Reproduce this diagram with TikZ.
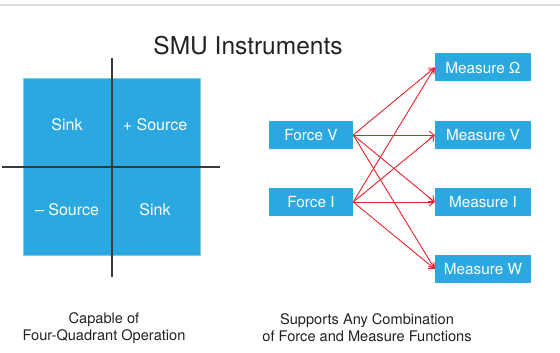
\documentclass[tikz,border=0pt]{standalone}
\usepackage{fontspec}
\setmainfont{TeX Gyre Heros}
\usetikzlibrary{arrows.meta}
\definecolor{smublue}{HTML}{2BA8E0}
\definecolor{smuedge}{HTML}{7CCFD6}
\definecolor{smured}{HTML}{E8212B}
\definecolor{smuaxis}{HTML}{3A3A3A}
\definecolor{smutext}{HTML}{222222}
\begin{document}
\begin{tikzpicture}[x=1pt, y=-1pt,
  box/.style={fill=smublue, text=white, minimum height=28pt, inner sep=0pt,
    font=\fontsize{15.3}{18}\selectfont},
  quad/.style={text=white, font=\fontsize{16}{19}\selectfont},
  caption/.style={text=smutext, align=center, font=\fontsize{14.6}{17}\selectfont},
  link/.style={smured, line width=0.9pt, -{Straight Barb[length=5pt,width=8pt]}}]
  \useasboundingbox (0,0) rectangle (560,353);
  \draw[line width=2pt, black!13] (0,5) -- (560,5);
  \node[text=smutext, font=\fontsize{24.5}{28}\selectfont] (title) at (248,46) {SMU Instruments};
  % four quadrants
  \node[draw=smuedge, fill=smublue, line width=1pt, minimum size=177pt, inner sep=0pt] (square) at (112,167) {};
  \draw[smuaxis, line width=1.2pt] (112,58) -- (112,277);
  \draw[smuaxis, line width=1.2pt] (2,167) -- (220,167);
  \node[quad] (q2) at (67,125) {Sink};
  \node[quad] (q1) at (155,125) {+ Source};
  \node[quad] (q3) at (67,210) {– Source};
  \node[quad] (q4) at (155,210) {Sink};
  % force and measure
  \node[box, minimum width=84pt] (fv) at (311,135) {Force V};
  \node[box, minimum width=84pt] (fi) at (311,202) {Force I};
  \node[box, minimum width=96pt] (mo) at (483,67.5) {Measure Ω};
  \node[box, minimum width=96pt] (mv) at (483,135) {Measure V};
  \node[box, minimum width=96pt] (mi) at (483,202) {Measure I};
  \node[box, minimum width=96pt] (mw) at (483,269) {Measure W};
  \foreach \m in {mo,mv,mi,mw} {
    \draw[link] (fv.east) -- (\m.west);
    \draw[link] (fi.east) -- (\m.west);
  }
  \node[caption] (capl) at (104,328) {Capable of\\Four-Quadrant Operation};
  \node[caption] (capr) at (367,328) {Supports Any Combination\\of Force and Measure Functions};
\end{tikzpicture}
\end{document}
